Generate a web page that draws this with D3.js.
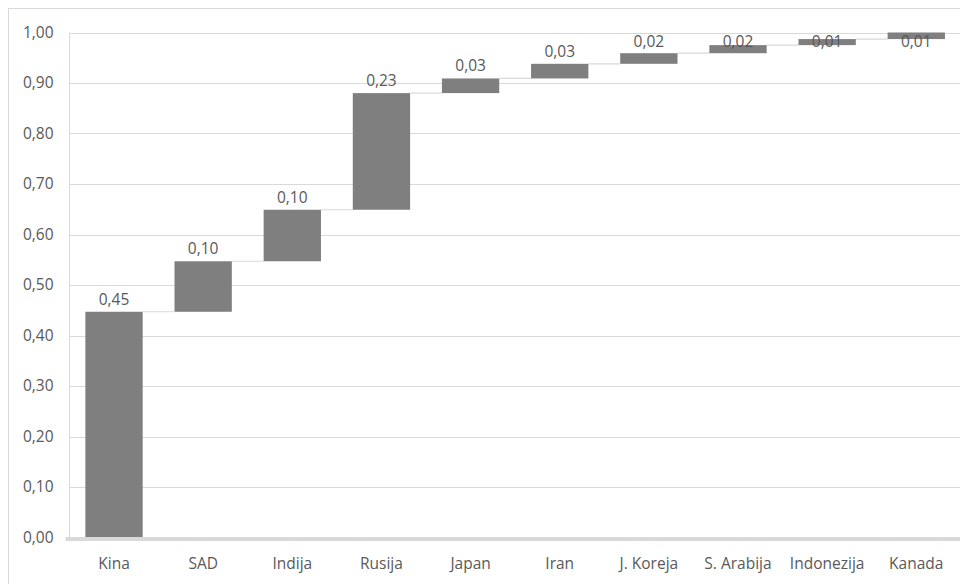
<!DOCTYPE html>
<html><head><meta charset="utf-8">
<script src="https://cdn.jsdelivr.net/npm/d3@7"></script>
<style>body{margin:0;background:#fff}text{font-family:"Open Sans",sans-serif}</style>
</head><body>
<svg id="c" width="960" height="584"></svg>
<script>
const categories = ["Kina","SAD","Indija","Rusija","Japan","Iran","J. Koreja","S. Arabija","Indonezija","Kanada"];
const values = [0.447,0.100,0.102,0.231,0.029,0.029,0.021,0.016,0.012,0.013];
const yTicks = [0,0.1,0.2,0.3,0.4,0.5,0.6,0.7,0.8,0.9,1.0];

const svg = d3.select("#c");
const W=960,H=584;
const m={left:69.5,right:-0.8,top:32.5,bottom:46.5};
const fmt = v => v.toFixed(2).replace(".", ",");
const FS = "15.5px";

// chart border
svg.append("rect").attr("x",8.5).attr("y",8.5).attr("width",W).attr("height",H)
  .attr("fill","none").attr("stroke","#d9d9d9");

const x = d3.scaleBand().domain(categories).range([m.left, W-m.right]).paddingInner(0.357).paddingOuter(0.178);
const y = d3.scaleLinear().domain([0,1]).range([H-m.bottom, m.top]);

// gridlines
svg.append("g").selectAll("line").data(yTicks.slice(1)).join("line")
  .attr("x1",m.left).attr("x2",W).attr("y1",d=>Math.round(y(d))+0.5).attr("y2",d=>Math.round(y(d))+0.5)
  .attr("stroke","#d9d9d9").attr("stroke-width",1);
svg.append("line").attr("x1",m.left).attr("x2",m.left).attr("y1",y(1)).attr("y2",y(0))
  .attr("stroke","#d9d9d9");

// y axis labels
const yAxis = d3.axisLeft(y).tickValues(yTicks).tickFormat(fmt).tickSize(0).tickPadding(16);
const ga = svg.append("g").attr("transform",`translate(${m.left},0)`).call(yAxis);
ga.select(".domain").remove();
ga.selectAll("text").attr("fill","#595959").style("font-size",FS).style("font-family","'Open Sans',sans-serif");

// cumulative
let cum=0;
const data = categories.map((c,i)=>{const s=cum; cum+=values[i]; return {c, v:values[i], start:s, end:cum};});

// connectors
svg.append("g").selectAll("line").data(data.slice(0,-1)).join("line")
  .attr("x1",(d)=>x(d.c)+x.bandwidth()).attr("x2",(d,i)=>x(data[i+1].c))
  .attr("y1",d=>y(d.end)).attr("y2",d=>y(d.end))
  .attr("stroke","#d9d9d9").attr("stroke-width",1.2);

// bars
svg.append("g").selectAll("rect").data(data).join("rect")
  .attr("x",d=>x(d.c)).attr("width",x.bandwidth())
  .attr("y",d=>y(d.end)).attr("height",d=>y(d.start)-y(d.end))
  .attr("fill","#7f7f7f");

// x axis thick line
svg.append("line").attr("x1",m.left-4).attr("x2",W).attr("y1",y(0)+1.5).attr("y2",y(0)+1.5)
  .attr("stroke","#d9d9d9").attr("stroke-width",4);

// x axis labels
const xAxis = d3.axisBottom(x).tickSize(0).tickPadding(20);
const gx = svg.append("g").attr("transform",`translate(0,${y(0)})`).call(xAxis);
gx.select(".domain").remove();
gx.selectAll("text").attr("fill","#595959").style("font-size",FS).style("font-family","'Open Sans',sans-serif");

// value labels
svg.append("g").selectAll("text").data(data).join("text")
  .attr("x",d=>x(d.c)+x.bandwidth()/2)
  .attr("y",d=>Math.max(y(d.end)-7, 47))
  .attr("text-anchor","middle").attr("fill","#595959").style("font-size",FS)
  .text(d=>fmt(d.v));
</script>
</body></html>
